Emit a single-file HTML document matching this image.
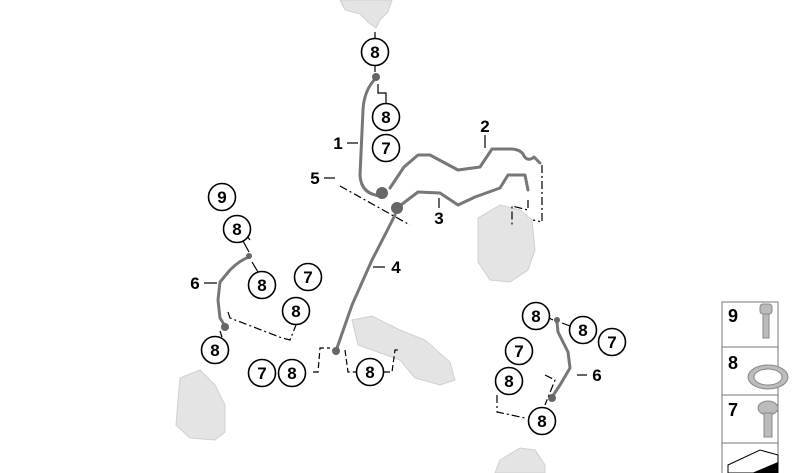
<!DOCTYPE html>
<html><head><style>
html,body{margin:0;padding:0;background:#fff;}
svg{display:block;}
text{font-family:"Liberation Sans",sans-serif;font-weight:bold;fill:#000;}
</style></head><body>
<svg width="800" height="473" viewBox="0 0 800 473" xmlns="http://www.w3.org/2000/svg">
<defs>
<g id="c"><circle r="13.5" fill="#fff" stroke="#000" stroke-width="1.6"/></g>
</defs>
<g fill="#e4e4e4" stroke="#d0d0d0">
<path d="M340 0 L392 0 L388 12 L380 20 L376 28 L368 22 L360 14 L345 10Z"/>
<path d="M478 218 L500 205 L520 210 L532 220 L535 250 L528 270 L510 282 L490 280 L478 262Z"/>
<path d="M352 320 L372 316 L400 330 L425 340 L450 362 L455 380 L440 385 L415 378 L400 360 L372 350 L358 345Z"/>
<path d="M180 378 L200 370 L215 385 L225 405 L225 432 L215 440 L190 438 L176 425 L178 400Z"/>
<path d="M500 460 L520 448 L535 450 L545 465 L545 473 L495 473Z"/>
</g>
<g fill="none" stroke="#777" stroke-width="3" stroke-linecap="round" stroke-linejoin="round">
<path d="M376 78 Q364 90 363 110 L360 175 Q361 195 382 196"/>
<path d="M390 188 L404 167 L418 155 L430 155 L458 170 L480 167 L492 149 L512 149 Q522 150 524 156 Q528 162 534 157 L540 163"/>
<path d="M397 208 L418 192 L440 193 L458 205 L475 197 L500 188 L508 175 L525 175 L528 190"/>
<path d="M395 215 Q385 235 372 260 L352 305 L337 348"/>
<path d="M249 257 Q240 260 230 270 L220 282 L218 300 L220 318 L225 326"/>
<path d="M557 322 L558 332 L568 352 L570 368 L560 385 L552 397"/>
</g>
<g fill="#666"><circle cx="382" cy="193" r="6"/><circle cx="397" cy="208" r="6"/><circle cx="376" cy="77" r="4"/><circle cx="336" cy="351" r="4"/><circle cx="225" cy="327" r="4"/><circle cx="552" cy="398" r="4"/><circle cx="557" cy="320" r="3"/><circle cx="249" cy="256" r="3"/></g>
<g fill="none" stroke="#000" stroke-width="1.2">
<path d="M375 38 L375 32M375 66 L375 72"/>
<path d="M378 84 L378 93 L386 93 L386 103"/>
<path d="M347 143 L358 143"/>
<path d="M485 135 L485 148"/>
<path d="M439 208 L439 198"/>
<path d="M324 178 L335 178"/>
<path d="M385 267 L373 267"/>
<path d="M204 283 L217 283"/>
<path d="M587 375 L577 375"/>
<path d="M243 241 L249 252M252 262 L258 272M222 337 L220 331M244 232 L250 240"/>
<path d="M340 186 L410 225" stroke-dasharray="8 3 2 3"/>
<path d="M542 165 L542 222 L533 220" stroke-dasharray="8 3 2 3"/>
<path d="M528 200 L528 210 L512 206 L512 225" stroke-dasharray="8 3 2 3"/>
<path d="M228 312 L230 318 L282 338 L290 340 L296 325" stroke-dasharray="8 3 2 3"/>
<path d="M313 372 L318 372 L320 348 L330 348" stroke-dasharray="6 3"/>
<path d="M345 350 L348 372 L356 372M384 372 L392 372 L395 350 L400 350" stroke-dasharray="6 3"/>
<path d="M497 395 L497 412 L525 418M545 375 L555 380 L545 405" stroke-dasharray="8 3 2 3"/>
<path d="M549 318 L553 320M562 323 L570 326"/>
</g>
<g font-size="17" text-anchor="middle">
<use href="#c" x="375" y="52"/><text x="375" y="58">8</text>
<use href="#c" x="386" y="117"/><text x="386" y="123">8</text>
<use href="#c" x="386" y="148"/><text x="386" y="154">7</text>
<use href="#c" x="222" y="197"/><text x="222" y="203">9</text>
<use href="#c" x="237" y="229"/><text x="237" y="235">8</text>
<use href="#c" x="262" y="285"/><text x="262" y="291">8</text>
<use href="#c" x="308" y="277"/><text x="308" y="283">7</text>
<use href="#c" x="296" y="311"/><text x="296" y="317">8</text>
<use href="#c" x="215" y="350"/><text x="215" y="356">8</text>
<use href="#c" x="262" y="373"/><text x="262" y="379">7</text>
<use href="#c" x="292" y="373"/><text x="292" y="379">8</text>
<use href="#c" x="370" y="372"/><text x="370" y="378">8</text>
<use href="#c" x="536" y="316"/><text x="536" y="322">8</text>
<use href="#c" x="583" y="330"/><text x="583" y="336">8</text>
<use href="#c" x="612" y="342"/><text x="612" y="348">7</text>
<use href="#c" x="519" y="351"/><text x="519" y="357">7</text>
<use href="#c" x="509" y="381"/><text x="509" y="387">8</text>
<use href="#c" x="542" y="421"/><text x="542" y="427">8</text>
<text x="338" y="149">1</text>
<text x="485" y="132">2</text>
<text x="439" y="224">3</text>
<text x="396" y="273">4</text>
<text x="315" y="184">5</text>
<text x="195" y="289">6</text>
<text x="597" y="381">6</text>
</g>
<g fill="none" stroke="#777" stroke-width="1">
<rect x="722" y="302" width="56" height="45"/>
<rect x="722" y="347" width="56" height="48"/>
<rect x="722" y="395" width="56" height="48"/>
<rect x="722" y="443" width="56" height="35"/>
</g>
<g font-size="18"><text x="728" y="322">9</text><text x="728" y="369">8</text><text x="728" y="416">7</text></g>
<g fill="#bbb" stroke="#888">
<rect x="760" y="304" width="12" height="10" rx="3"/><rect x="763" y="314" width="6" height="24"/>
<ellipse cx="768" cy="377" rx="20" ry="12"/><ellipse cx="768" cy="377" rx="14" ry="8" fill="#fff"/>
<ellipse cx="768" cy="408" rx="10" ry="7"/><rect x="764" y="413" width="8" height="24"/>
</g>
<path d="M728 465 L760 450 L778 455 L778 473 L728 473Z" fill="none" stroke="#000"/>
<path d="M752 473 L778 462 L778 473Z" fill="#000"/>
</svg>
</body></html>
